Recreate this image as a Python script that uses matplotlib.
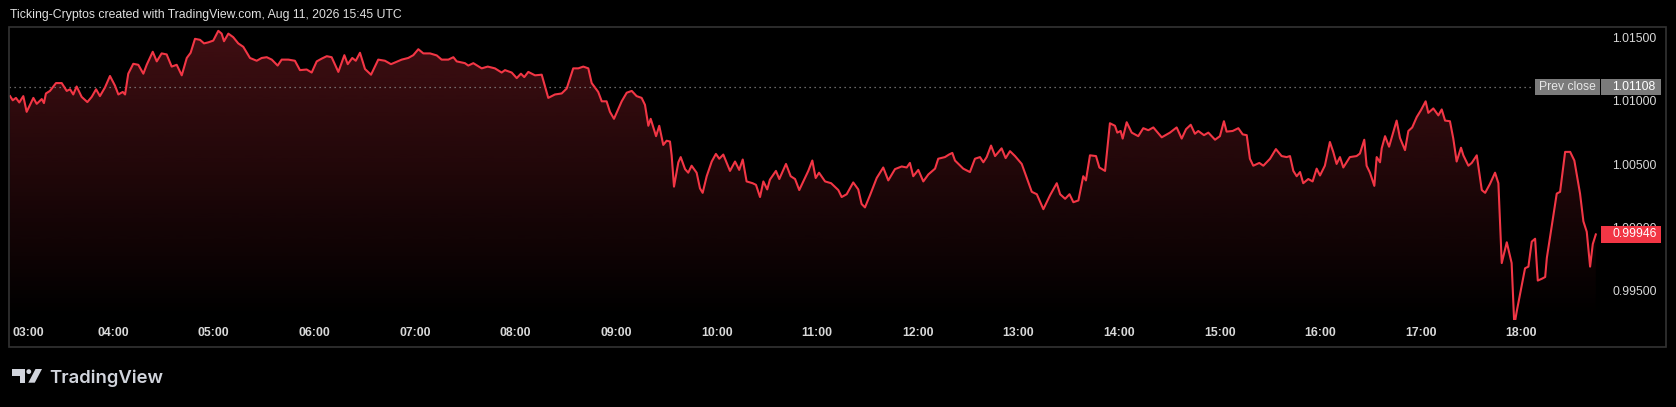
import numpy as np
import matplotlib
matplotlib.use("Agg")
import matplotlib.pyplot as plt
from matplotlib import transforms
from matplotlib.patches import Rectangle, Polygon, Circle

################################ data
# minutes after 03:00 and the price
minutes = [-1.4, 0.2, 2.1, 4.1, 6.5, 8.5, 10.5, 12.5, 14.5, 17.5,
           18.8, 20.0, 22.4, 26.0, 29.4, 32.4, 34.4, 36.3, 38.3, 41.3,
           44.7, 47.3, 49.9, 52.2, 55.2, 58.2, 61.2, 63.2, 65.8, 67.2,
           69.1, 72.1, 75.1, 78.1, 80.1, 83.7, 86.1, 89.0, 92.0, 95.0,
           98.0, 101.0, 104.0, 106.3, 108.9, 111.9, 114.3, 116.8, 119.8, 122.8,
           124.8, 126.2, 128.8, 131.7, 134.7, 137.7, 141.7, 145.7, 148.7, 151.7,
           154.7, 158.2, 160.6, 164.6, 168.5, 171.5, 175.5, 178.5, 181.5, 184.5,
           187.5, 190.4, 194.4, 198.0, 200.0, 202.7, 204.8, 207.3, 210.3, 213.9,
           218.2, 222.2, 225.8, 229.8, 232.2, 236.1, 239.1, 242.1, 245.1, 249.1,
           253.1, 256.0, 260.0, 263.0, 265.0, 269.9, 271.9, 274.9, 279.9, 283.5,
           287.8, 291.8, 293.8, 297.8, 300.8, 303.3, 305.3, 307.7, 311.7,
           315.7, 319.6, 323.6, 327.6, 330.6, 334.5, 337.5, 340.5, 343.5, 345.5,
           349.4, 351.5, 354.4, 356.4, 358.8, 363.4, 366.4, 369.4, 372.3, 375.3,
           377.3, 379.3, 380.7, 383.9, 385.8, 388.2, 390.2, 392.2, 393.2, 394.6,
           397.2, 398.6, 401.2, 403.1, 405.1, 408.1, 410.1, 411.7, 414.1, 417.1,
           419.6, 421.6, 424.0, 428.0, 431.0, 433.5, 435.6, 437.9, 441.5, 443.5,
           445.9, 447.9, 450.2, 451.8, 455.4, 457.4, 461.4, 464.2, 466.8, 469.3,
           474.7, 477.1, 479.1, 481.1, 484.7, 488.3, 492.6, 494.6, 497.6, 501.5,
           504.5, 506.5, 508.5, 511.5, 515.5, 519.4, 522.4, 526.4, 530.4, 533.4,
           535.3, 537.3, 540.3, 543.3, 546.3, 550.3, 552.2, 556.2, 558.6, 560.6,
           562.2, 567.1, 571.1, 574.1, 577.1, 579.1, 581.1, 583.7, 586.1, 590.0,
           592.4, 595.0, 598.0, 602.0, 608.0, 611.0, 614.9, 618.9, 622.9, 624.9,
           627.9, 630.5, 632.8, 635.8, 638.7, 640.3, 642.7, 646.3, 648.3, 651.7,
           654.6, 657.6, 659.0, 661.0, 662.2, 664.6, 667.6, 671.5, 674.5, 677.5,
           680.5, 685.5, 690.4, 694.4, 697.4, 700.0, 702.8, 705.3, 707.3, 710.7,
           713.3, 717.3, 720.2, 722.6, 724.2, 727.8, 731.2, 733.8, 736.2, 738.1,
           740.1, 743.7, 746.1, 750.1, 753.6, 757.0, 760.0, 762.0, 764.0, 766.0,
           768.0, 769.9, 772.9, 775.5, 777.9, 779.9, 782.8,
           785.8, 787.8, 789.8, 791.8, 793.8, 797.7, 801.7, 803.7, 806.3, 807.7,
           809.7, 812.3, 813.7, 815.7, 816.7, 818.7, 821.1, 825.6, 827.6, 830.6,
           832.6, 834.9, 837.6, 840.1, 842.9, 844.5, 847.5, 850.5, 852.5, 854.5,
           857.4, 859.4, 861.4, 864.0, 865.4, 868.4, 870.4, 873.4, 876.4, 878.4,
           881.3, 884.3, 886.3, 888.3, 891.3, 894.2, 895.8, 897.2, 900.2, 902.2,
           904.2, 906.2, 908.2, 909.8, 912.2, 914.2, 915.2, 918.1, 921.1, 923.1,
           926.1, 929.1, 931.6, 935.0, 937.0, 939.0, 941.0, 942.6, 944.4]

prices = [1.01037, 1.01004, 1.01023, 1.00987, 1.01037, 1.00913, 1.00968, 1.01023, 1.00976, 1.01014,
          1.00982, 1.01058, 1.01078, 1.01140, 1.01140, 1.01078, 1.01091, 1.01050, 1.01113, 1.01031,
          1.00990, 1.01031, 1.01091, 1.01037, 1.01105, 1.01196, 1.01119, 1.01050, 1.01070, 1.01050,
          1.01214, 1.01292, 1.01284, 1.01214, 1.01284, 1.01387, 1.01311, 1.01374, 1.01366, 1.01270,
          1.01284, 1.01201, 1.01338, 1.01379, 1.01489, 1.01481, 1.01453, 1.01461, 1.01475, 1.01552,
          1.01530, 1.01470, 1.01530, 1.01502, 1.01453, 1.01426, 1.01338, 1.01316, 1.01338, 1.01344,
          1.01325, 1.01278, 1.01325, 1.01325, 1.01316, 1.01242, 1.01247, 1.01223, 1.01311, 1.01333,
          1.01352, 1.01344, 1.01228, 1.01360, 1.01289, 1.01338, 1.01316, 1.01379, 1.01251, 1.01206,
          1.01325, 1.01316, 1.01289, 1.01311, 1.01325, 1.01338, 1.01360, 1.01407, 1.01374, 1.01374,
          1.01358, 1.01325, 1.01325, 1.01344, 1.01311, 1.01297, 1.01278, 1.01297, 1.01256, 1.01270,
          1.01256, 1.01223, 1.01242, 1.01223, 1.01179, 1.01214, 1.01187, 1.01228, 1.01201,
          1.01206, 1.01023, 1.01050, 1.01058, 1.01097, 1.01256, 1.01256, 1.01270, 1.01256, 1.01140,
          1.01070, 1.00996, 1.00996, 1.00913, 1.00858, 1.00996, 1.01064, 1.01078, 1.01037, 1.01023,
          1.00968, 1.00803, 1.00858, 1.00721, 1.00803, 1.00652, 1.00685, 1.00679, 1.00570, 1.00323,
          1.00515, 1.00556, 1.00461, 1.00433, 1.00488, 1.00433, 1.00309, 1.00274, 1.00405, 1.00521,
          1.00581, 1.00543, 1.00576, 1.00447, 1.00521, 1.00455, 1.00537, 1.00364, 1.00350, 1.00337,
          1.00241, 1.00364, 1.00301, 1.00378, 1.00447, 1.00383, 1.00502, 1.00405, 1.00383, 1.00296,
          1.00447, 1.00529, 1.00391, 1.00433, 1.00364, 1.00350, 1.00296, 1.00241, 1.00263, 1.00356,
          1.00301, 1.00186, 1.00159, 1.00255, 1.00391, 1.00474, 1.00372, 1.00461, 1.00482, 1.00474,
          1.00510, 1.00405, 1.00455, 1.00364, 1.00419, 1.00465, 1.00543, 1.00556, 1.00576, 1.00589,
          1.00529, 1.00465, 1.00438, 1.00543, 1.00556, 1.00515, 1.00556, 1.00647, 1.00564, 1.00625,
          1.00548, 1.00603, 1.00564, 1.00502, 1.00282, 1.00263, 1.00145, 1.00255, 1.00350, 1.00263,
          1.00227, 1.00263, 1.00200, 1.00214, 1.00405, 1.00372, 1.00570, 1.00564, 1.00474, 1.00447,
          1.00823, 1.00803, 1.00749, 1.00762, 1.00702, 1.00831, 1.00749, 1.00721, 1.00784, 1.00768,
          1.00790, 1.00712, 1.00749, 1.00790, 1.00702, 1.00776, 1.00811, 1.00740, 1.00762, 1.00729,
          1.00749, 1.00693, 1.00721, 1.00839, 1.00757, 1.00762, 1.00784, 1.00735, 1.00729, 1.00543,
          1.00488, 1.00510, 1.00488, 1.00543, 1.00619, 1.00564, 1.00556, 1.00564, 1.00447, 1.00405,
          1.00438, 1.00350, 1.00383, 1.00364, 1.00465, 1.00411, 1.00488,
          1.00675, 1.00597, 1.00502, 1.00556, 1.00474, 1.00556, 1.00564, 1.00584, 1.00693, 1.00488,
          1.00433, 1.00329, 1.00556, 1.00515, 1.00625, 1.00721, 1.00638, 1.00844, 1.00707, 1.00611,
          1.00762, 1.00790, 1.00872, 1.00926, 1.00996, 1.00905, 1.00940, 1.00885, 1.00932, 1.00844,
          1.00839, 1.00702, 1.00521, 1.00630, 1.00570, 1.00488, 1.00510, 1.00570, 1.00296, 1.00274,
          1.00345, 1.00433, 1.00350, 0.99720, 0.99884, 0.99720, 0.99226, 0.99336, 0.99541, 0.99679,
          0.99692, 0.99889, 0.99912, 0.99582, 0.99596, 0.99610, 0.99761, 1.00008, 1.00268, 1.00282,
          1.00597, 1.00597, 1.00529, 1.00268, 1.00049, 0.99967, 0.99692, 0.99870, 0.99946]

prev_close = 1.01108
last_price = prices[-1]

time_ticks = [0, 60, 120, 180, 240, 300, 360, 420, 480, 540, 600, 660, 720, 780, 840, 900]
time_labels = ["03:00", "04:00", "05:00", "06:00", "07:00", "08:00", "09:00", "10:00",
               "11:00", "12:00", "13:00", "14:00", "15:00", "16:00", "17:00", "18:00"]
price_ticks = [0.995, 1.000, 1.005, 1.010, 1.015]

title = "Ticking-Cryptos created with TradingView.com, Aug 11, 2026 15:45 UTC"

################################ figure
W, H = 1676, 407
BG = "#000000"
TXT = "#d9d9d9"
RED = "#f23645"

plt.rcParams['font.family'] = ['Liberation Sans', 'DejaVu Sans']
fig = plt.figure(figsize=(W / 100, H / 100), dpi=100, facecolor=BG)

# pane in pixels: x 9..1601, y 27..320
ax = fig.add_axes([9 / W, 1 - 320 / H, (1601 - 9) / W, (320 - 27) / H])
ax.set_facecolor(BG)
for s in ax.spines.values():
    s.set_visible(False)

xmin, xmax = -2.03, 947.5
ymin, ymax = 0.992708, 1.015823

# gradient area fill
poly = ax.fill_between(minutes, prices, ymin, facecolor='none', edgecolor='none')
alpha = np.linspace(0.27, 0.0, 256)
grad = np.zeros((256, 1, 4))
grad[:, 0, 0] = 242 / 255
grad[:, 0, 1] = 54 / 255
grad[:, 0, 2] = 69 / 255
grad[:, 0, 3] = alpha
img = ax.imshow(grad, extent=[xmin, xmax, ymin, ymax], aspect='auto', origin='upper', zorder=1)
img.set_clip_path(poly.get_paths()[0], transform=ax.transData)

ax.plot(minutes, prices, color=RED, lw=1.5, zorder=3, solid_joinstyle='round')

# previous close dotted line
ax.axhline(prev_close, xmin=0, xmax=(1533 - 9) / (1601 - 9), color='#8a8a8a',
           lw=0.9, linestyle=(0, (1, 3)), zorder=2)

ax.set_xlim(xmin, xmax)
ax.set_ylim(ymin, ymax)

ax.set_xticks(time_ticks)
ax.set_xticklabels(time_labels, fontweight='bold')
ax.get_xticklabels()[0].set_ha('left')
ax.tick_params(axis='x', length=0, pad=5, labelsize=8.8, labelcolor=TXT)

ax.yaxis.tick_right()
ax.set_yticks(price_ticks)
ax.set_yticklabels(["%.5f" % p for p in price_ticks])
ax.tick_params(axis='y', length=0, pad=8, labelsize=8.7, labelcolor=TXT)

# price scale labels
blend = transforms.blended_transform_factory(fig.transFigure, ax.transData)
half = 8 / 12150.0


def price_box(x0, x1, y, color, text, tcolor, tx, ha='left'):
    ax.add_patch(Rectangle((x0 / W, y - half), (x1 - x0) / W, 2 * half, transform=blend,
                           facecolor=color, edgecolor='none', clip_on=False, zorder=6))
    ax.text(tx / W, y, text, transform=blend, ha=ha, va='center', fontsize=8.7,
            color=tcolor, clip_on=False, zorder=7)


price_box(1535, 1600, prev_close, '#7b7b7b', "Prev close", '#e8e8e8', 1567.5, ha='center')
price_box(1601, 1661, prev_close, '#7b7b7b', "%.5f" % prev_close, '#ffffff', 1612)
price_box(1601, 1661, last_price, RED, "%.5f" % last_price, '#ffffff', 1612)

# outer frame
fig.add_artist(Rectangle((9 / W, 1 - 347 / H), (1666 - 9) / W, (347 - 27) / H,
                         transform=fig.transFigure, fill=False, edgecolor='#333333', lw=1.2))

fig.text(10 / W, 1 - 15 / H, title, ha='left', va='center', fontsize=8.8, color='#e0e0e0')

# logo
px = transforms.Affine2D().scale(1 / W, -1 / H).translate(0, 1) + fig.transFigure
LOGO = '#d1d4dc'
fig.add_artist(Polygon([(12.3, 369), (25, 369), (25, 382.7), (20, 382.7), (20, 375.5), (12.3, 375.5)],
                       closed=True, transform=px, facecolor=LOGO, edgecolor='none'))
fig.add_artist(Circle((28.8, 371.6), 2.4, transform=px, facecolor=LOGO, edgecolor='none'))
fig.add_artist(Polygon([(35.5, 369), (42, 369), (34.8, 382.7), (28.3, 382.7)],
                       closed=True, transform=px, facecolor=LOGO, edgecolor='none'))
fig.text(49 / W, 1 - 382.7 / H, "TradingView", ha='left', va='baseline', fontsize=13.3,
         fontweight='semibold', color=LOGO, family=['Inter', 'DejaVu Sans'])

fig.savefig("out.png", dpi=100, facecolor=BG)
